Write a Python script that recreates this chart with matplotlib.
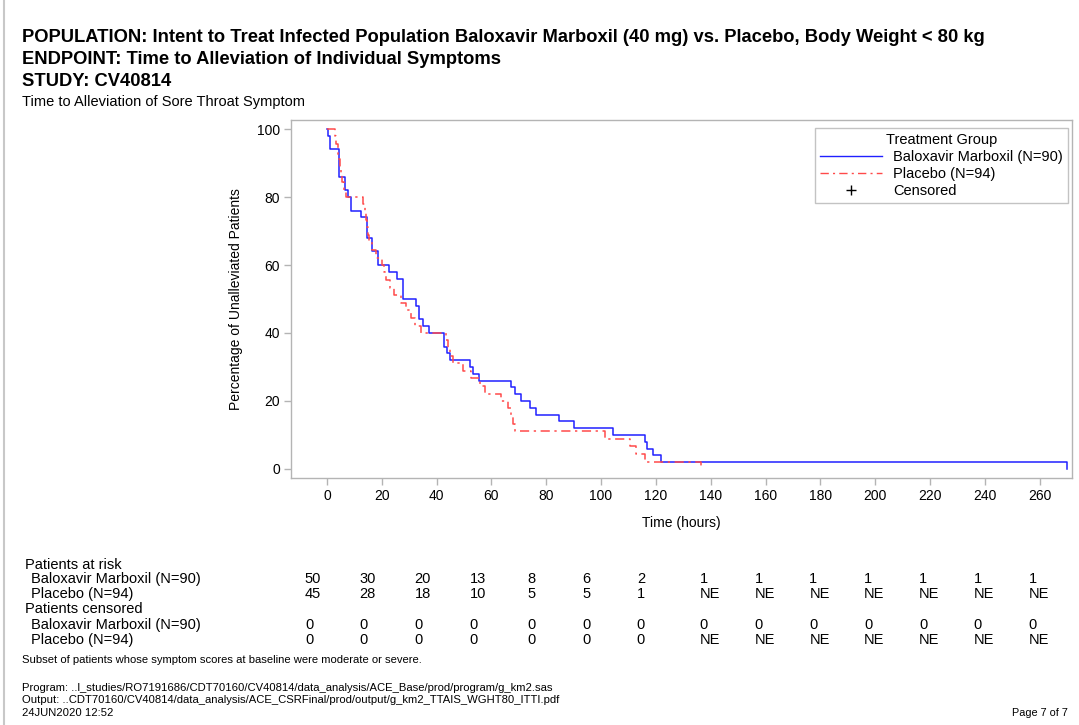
import matplotlib
matplotlib.use("Agg")
import matplotlib.pyplot as plt
import matplotlib.transforms as mtransforms
from matplotlib.lines import Line2D

# ---- data -------------------------------------------------------------
# Kaplan-Meier step points: (time in hours, % unalleviated after the drop)
balox_time = [0, 0.3, 1.2, 4.5, 6.7, 7.8, 8.9, 12.4, 14.5, 16.3, 18.7, 22.7,
              25.4, 27.8, 32.4, 33.6, 34.9, 37.1, 42.8, 43.9, 44.9, 52.2,
              53.2, 55.6, 67.1, 68.6, 70.7, 74.0, 76.2, 84.7, 90.2, 104.4,
              116.0, 116.8, 119.0, 121.7, 270.0]
balox_pct = [100, 98, 94, 86, 82, 80, 76, 74, 68, 64, 60, 58,
             56, 50, 48, 44, 42, 40, 36, 34, 32, 30,
             28, 26, 24, 22, 20, 18, 16, 14, 12, 10,
             8, 6, 4, 2, 0]

placebo_time = [0, 3.0, 3.4, 3.9, 4.2, 4.6, 5.0, 5.6, 6.3, 6.8, 13.2, 13.8,
                14.2, 14.6, 15.0, 15.4, 16.3, 17.8, 20.2, 20.8, 21.5, 23.0,
                24.3, 27.2, 28.7, 30.5, 32.0, 34.5, 43.3, 44.2, 44.9, 46.0,
                49.5, 52.7, 56.0, 57.6, 63.6, 66.0, 67.0, 67.8, 68.6, 101.4,
                110.5, 112.9, 116.0, 136.6]
placebo_pct = [100, 97.8, 95.6, 93.3, 91.1, 88.9, 86.7, 84.4, 82.2, 80.0,
               77.8, 75.6, 73.3, 71.1, 68.9, 66.7, 64.4, 62.2, 60.0, 57.8,
               55.6, 53.3, 51.1, 48.9, 46.7, 44.4, 42.2, 40.0, 37.8, 35.6,
               33.3, 31.1, 28.9, 26.7, 24.4, 22.2, 20.0, 17.8, 15.6, 13.3,
               11.1, 8.9, 6.7, 4.4, 2.2, 0.0]

x_ticks = [0, 20, 40, 60, 80, 100, 120, 140, 160, 180, 200, 220, 240, 260]
y_ticks = [0, 20, 40, 60, 80, 100]

groups = ["Baloxavir Marboxil (N=90)", "Placebo (N=94)"]
at_risk_balox = ["50", "30", "20", "13", "8", "6", "2", "1", "1", "1", "1", "1", "1", "1"]
at_risk_placebo = ["45", "28", "18", "10", "5", "5", "1", "NE", "NE", "NE", "NE", "NE", "NE", "NE"]
censored_balox = ["0"] * 14
censored_placebo = ["0"] * 7 + ["NE"] * 7

title_lines = [
    "POPULATION: Intent to Treat Infected Population Baloxavir Marboxil (40 mg) vs. Placebo, Body Weight < 80 kg",
    "ENDPOINT: Time to Alleviation of Individual Symptoms",
    "STUDY: CV40814",
]
subtitle = "Time to Alleviation of Sore Throat Symptom"
footnote = "Subset of patients whose symptom scores at baseline were moderate or severe."
program_lines = [
    "Program: ..l_studies/RO7191686/CDT70160/CV40814/data_analysis/ACE_Base/prod/program/g_km2.sas",
    "Output: ..CDT70160/CV40814/data_analysis/ACE_CSRFinal/prod/output/g_km2_TTAIS_WGHT80_ITTI.pdf",
    "24JUN2020 12:52",
]
page_label = "Page 7 of 7"

# ---- figure -----------------------------------------------------------
W, H = 1079, 725
plt.rcParams["font.family"] = ["Liberation Sans", "DejaVu Sans"]
fig = plt.figure(figsize=(W / 100, H / 100), dpi=100)
fig.patch.set_facecolor("white")


def fx(px):
    return px / W


def fy(py):
    return 1 - py / H


# page frame line on the left
fig.add_artist(Line2D([fx(4), fx(4)], [0, 1], color="#c8c8c8", lw=1.5))

ax_l, ax_r, ax_t, ax_b = 291, 1072, 120, 478
ax = fig.add_axes([fx(ax_l), fy(ax_b), fx(ax_r - ax_l), (ax_b - ax_t) / H])

blue = "#2020ff"
red = "#ff4a4a"
dashdot = (0, (6, 3, 1.5, 3))
ax.step(balox_time, balox_pct, where="post", color=blue, lw=1.1)
ax.step(placebo_time, placebo_pct, where="post", color=red, lw=1.1,
        linestyle=dashdot)

ax.set_xlim(-13.1, 271.8)
ax.set_ylim(-2.65, 102.65)
ax.set_xticks(x_ticks)
ax.set_yticks(y_ticks)
for sp in ax.spines.values():
    sp.set_color("#b4b4b4")
    sp.set_linewidth(1.0)
ax.tick_params(axis="both", direction="out", length=5, width=1,
               color="#b4b4b4", labelsize=10, labelcolor="black", pad=3)
ax.set_xlabel("Time (hours)", fontsize=10, labelpad=9)
ax.set_ylabel("Percentage of Unalleviated Patients", fontsize=10, labelpad=10)

# legend
handles = [
    Line2D([], [], color=blue, lw=1.0),
    Line2D([], [], color=red, lw=1.0, linestyle=dashdot),
    Line2D([], [], color="black", lw=0, marker="+", markersize=7, markeredgewidth=1),
]
leg = ax.legend(handles, [groups[0], groups[1], "Censored"], title="Treatment Group",
                loc="upper right", bbox_to_anchor=(0.998, 0.985), fontsize=10.5,
                title_fontsize=10.5, frameon=True, fancybox=False,
                handlelength=4.3, handletextpad=0.75, borderpad=0.3,
                labelspacing=0.22, borderaxespad=0.2)
leg.get_frame().set_edgecolor("#b4b4b4")
leg.get_frame().set_linewidth(1.0)

# titles
title_y = [38, 60, 81]
for line, yy in zip(title_lines, title_y):
    fig.text(fx(22), fy(yy), line, fontsize=13.2, fontweight="bold",
             ha="left", va="center")
fig.text(fx(22), fy(102), subtitle, fontsize=10.5, ha="left", va="center")

# number-at-risk table aligned with the time axis; each column is a
# left-aligned block shifted by the width of its widest entry
rows = [
    ("Patients at risk", None, 565, 25),
    (groups[0], at_risk_balox, 579, 31),
    (groups[1], at_risk_placebo, 594, 31),
    ("Patients censored", None, 609, 25),
    (groups[0], censored_balox, 625, 31),
    (groups[1], censored_placebo, 640, 31),
]
columns = list(zip(at_risk_balox, at_risk_placebo, censored_balox, censored_placebo))
col_shift = []
for col in columns:
    if "NE" in col:
        col_shift.append(-11)
    elif max(len(v) for v in col) >= 2:
        col_shift.append(-22)
    else:
        col_shift.append(-19)

tbl = mtransforms.blended_transform_factory(ax.transData, fig.transFigure)
for label, vals, yy, xx in rows:
    fig.text(fx(xx), fy(yy), label, fontsize=10.5, ha="left", va="center")
    if vals is not None:
        for t, v, dx in zip(x_ticks, vals, col_shift):
            tr = tbl + mtransforms.ScaledTranslation(dx / 100, 0, fig.dpi_scale_trans)
            fig.text(t, fy(yy), v, fontsize=10.5, ha="left", va="center",
                     transform=tr)

fig.text(fx(22), fy(660), footnote, fontsize=8.1, ha="left", va="center")
for line, yy in zip(program_lines, [688, 700, 713]):
    fig.text(fx(22), fy(yy), line, fontsize=8.1, ha="left", va="center")
fig.text(fx(1068), fy(713), page_label, fontsize=7.8, ha="right", va="center")

fig.savefig("out.png", dpi=100, facecolor="white")
